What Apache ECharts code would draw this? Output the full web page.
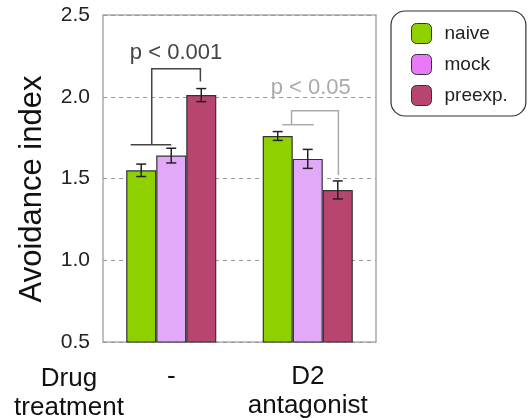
<!DOCTYPE html>
<html>
<head>
<meta charset="utf-8">
<script src="https://cdn.jsdelivr.net/npm/echarts@6/dist/echarts.min.js"></script>
<style>
    html, body { margin: 0; padding: 0; background: #fff; }
    #chart { width: 529px; height: 420px; }
</style>
</head>
<body>
<div id="chart"></div>
<script>
// 数据
var categories = ['-', 'D2\nantagonist'];
var naive = [1.55, 1.76];
var mock = [1.64, 1.62];
var preexp = [2.01, 1.43];
var naiveErr = [0.038, 0.027];
var mockErr = [0.045, 0.058];
var preexpErr = [0.04, 0.055];
var yTicks = [0.5, 1.0, 1.5, 2.0, 2.5];

// 显著性标注: 类别, 下横线, 上横线, 右端下落, 文字
var sigCat = [0, 1];
var sigLow = [1.707, 1.829];
var sigHigh = [2.171, 1.915];
var sigDrop = [2.093, 1.52];
var sigText = ['p < 0.001', 'p < 0.05'];
var sigTextY = [2.268, 2.055];

var FONT = 'Liberation Sans, Arial, sans-serif';
var BAR_RATIO = 0.22;

var myChart = echarts.init(document.getElementById('chart'));

// 误差线数据 [类别, 均值, 误差, 偏移]
var errData = [];
[naive, mock, preexp].forEach(function (arr, s) {
    var errs = [naiveErr, mockErr, preexpErr][s];
    for (var i = 0; i < arr.length; i++) {
        errData.push([i, arr[i], errs[i], s - 1]);
    }
});

var sigData = [];
for (var i = 0; i < sigCat.length; i++) {
    sigData.push([sigCat[i], sigLow[i], sigHigh[i], sigDrop[i], sigTextY[i], i]);
}

function renderErr(params, api) {
    var c = api.coord([api.value(0), api.value(1)]);
    var bandW = api.size([1, 0])[0];
    var x = c[0] + api.value(3) * bandW * BAR_RATIO;
    var top = api.coord([api.value(0), api.value(1) + api.value(2)])[1];
    var bot = api.coord([api.value(0), api.value(1) - api.value(2)])[1];
    var st = { stroke: '#222', lineWidth: 1.5 };
    return {
        type: 'group',
        children: [
            { type: 'line', shape: { x1: x, y1: top, x2: x, y2: bot }, style: st },
            { type: 'line', shape: { x1: x - 5, y1: top, x2: x + 5, y2: top }, style: st },
            { type: 'line', shape: { x1: x - 5, y1: bot, x2: x + 5, y2: bot }, style: st }
        ]
    };
}

function renderSig(params, api) {
    var idx = api.value(5);
    var cx = api.coord([api.value(0), 0])[0];
    var bw = api.size([1, 0])[0] * BAR_RATIO;
    var yLow = api.coord([0, api.value(1)])[1];
    var yHigh = api.coord([0, api.value(2)])[1];
    var yDrop = api.coord([0, api.value(3)])[1];
    var yText = api.coord([0, api.value(4)])[1];
    var color = idx === 0 ? '#444' : '#aaa';
    var lx1, lx2, vx, rx, tx;
    if (idx === 0) {
        lx1 = cx - 1.35 * bw; lx2 = cx; vx = cx - 0.65 * bw; rx = cx + 0.97 * bw; tx = cx + 0.16 * bw;
    } else {
        lx1 = cx - 0.85 * bw; lx2 = cx + 0.2 * bw; vx = cx - 0.54 * bw; rx = cx + 1.02 * bw; tx = cx + 0.1 * bw;
    }
    var st = { stroke: color, lineWidth: 1.5, fill: null };
    return {
        type: 'group',
        children: [
            { type: 'line', shape: { x1: lx1, y1: yLow, x2: lx2, y2: yLow }, style: st },
            { type: 'polyline', shape: { points: [[vx, yLow], [vx, yHigh], [rx, yHigh], [rx, yDrop]] }, style: st },
            {
                type: 'text', x: tx, y: yText,
                style: {
                    text: sigText[idx], fill: color, font: '22px ' + FONT,
                    align: 'center', verticalAlign: 'middle'
                }
            }
        ]
    };
}

function makeBar(name, data, color) {
    return {
        name: name,
        type: 'bar',
        data: data,
        barWidth: (BAR_RATIO * 100) + '%',
        barGap: '0%',
        itemStyle: { color: color, borderColor: '#333', borderWidth: 1.2 }
    };
}

option = {
    animation: false,
    textStyle: { fontFamily: FONT },
    grid: {
        left: 103, top: 15, right: 153, bottom: 77,
        show: true, borderColor: '#aaa', borderWidth: 1.5
    },
    legend: {
        left: 391, top: 11,
        orient: 'vertical',
        itemWidth: 20, itemHeight: 20, itemGap: 10,
        padding: [12, 18, 10, 20],
        borderColor: '#333', borderWidth: 1.2, borderRadius: 14,
        textStyle: { fontSize: 19, color: '#222', fontFamily: FONT, padding: [0, 0, 0, 8] },
        data: [
            { name: 'naive', itemStyle: { color: '#8fd100', borderColor: '#333', borderWidth: 1 } },
            { name: 'mock', itemStyle: { color: '#e87af8', borderColor: '#333', borderWidth: 1 } },
            { name: 'preexp.', itemStyle: { color: '#b8456f', borderColor: '#333', borderWidth: 1 } }
        ]
    },
    xAxis: {
        type: 'category',
        data: categories,
        axisLine: { show: false },
        axisTick: { show: false },
        axisLabel: {
            interval: 0,
            fontSize: 26, color: '#111', margin: 20, lineHeight: 29,
            fontFamily: FONT
        }
    },
    yAxis: {
        type: 'value',
        min: yTicks[0], max: yTicks[yTicks.length - 1], interval: 0.5,
        axisLine: { show: false },
        axisTick: { show: false },
        axisLabel: {
            fontSize: 21, color: '#222', margin: 13, fontFamily: FONT,
            formatter: function (v) { return v.toFixed(1); }
        },
        splitLine: { lineStyle: { color: '#999', type: [4, 4], width: 1 } }
    },
    graphic: [{
        type: 'text', x: 69, y: 364,
        style: {
            text: 'Drug\ntreatment', fill: '#111', font: '26px ' + FONT,
            align: 'center', lineHeight: 29
        }
    }, {
        type: 'text', x: 32, y: 189, rotation: Math.PI / 2,
        style: {
            text: 'Avoidance index', fill: '#111', font: '31px ' + FONT,
            align: 'center', verticalAlign: 'middle'
        }
    }],
    series: [
        makeBar('naive', naive, '#8fd100'),
        makeBar('mock', mock, '#e2a9f9'),
        makeBar('preexp.', preexp, '#b8456f'),
        {
            type: 'custom', name: 'err', renderItem: renderErr,
            data: errData, z: 5, silent: true
        },
        {
            type: 'custom', name: 'sig', renderItem: renderSig,
            data: sigData, z: 6, silent: true
        }
    ]
};
myChart.setOption(option);
</script>
</body>
</html>
